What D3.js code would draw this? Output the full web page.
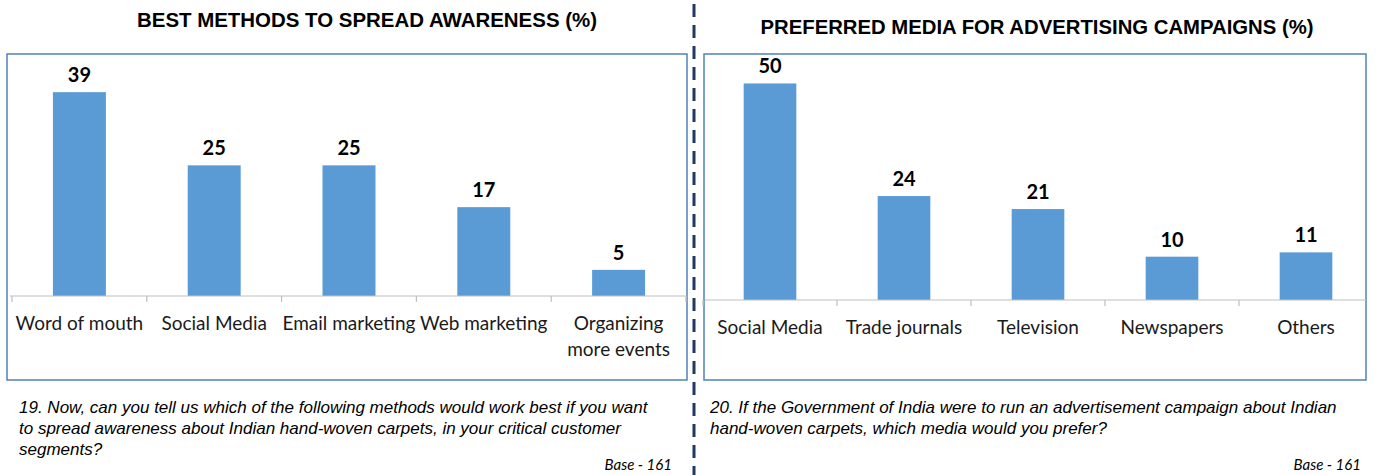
<!DOCTYPE html>
<html>
<head>
<meta charset="utf-8">
<script src="https://cdn.jsdelivr.net/npm/d3@7"></script>
<style>
  body { margin: 0; background: #fff; }
  svg { display: block; }
</style>
</head>
<body>
<div id="chart"></div>
<script>
// data
var awarenessCats = [["Word of mouth"], ["Social Media"], ["Email marketing"], ["Web marketing"], ["Organizing", "more events"]];
var awarenessVals = [39, 25, 25, 17, 5];
var mediaCats = [["Social Media"], ["Trade journals"], ["Television"], ["Newspapers"], ["Others"]];
var mediaVals = [50, 24, 21, 10, 11];

var titles = ["BEST METHODS TO SPREAD AWARENESS (%)", "PREFERRED MEDIA FOR ADVERTISING CAMPAIGNS (%)"];
var notes = [
    ["19. Now, can you tell us which of the following methods would work best if you want",
     "to spread awareness about Indian hand-woven carpets, in your critical customer",
     "segments?"],
    ["20. If the Government of India were to run an advertisement campaign about Indian",
     "hand-woven carpets, which media would you prefer?"]
];
var baseText = "Base - 161";

var W = 1378, H = 475;
var svg = d3.select("#chart").append("svg").attr("width", W).attr("height", H);

var barColor = "#5b9bd5";
var boxColor = "#4f81bd";
var labelFont = "Lato, 'Open Sans', sans-serif";
var noteFont = "'Liberation Sans', Arial, sans-serif";

function drawPanel(cfg, cats, vals, title, note) {
    var g = svg.append("g");

    // frame
    g.append("rect")
        .attr("x", cfg.boxX).attr("y", 54)
        .attr("width", cfg.boxW).attr("height", 326)
        .attr("fill", "none")
        .attr("stroke", boxColor)
        .attr("stroke-width", 1.5);

    // title
    g.append("text")
        .attr("x", cfg.titleX).attr("y", cfg.titleY)
        .attr("text-anchor", "middle")
        .attr("font-family", "'Liberation Sans', Arial, sans-serif")
        .attr("font-weight", "bold")
        .attr("font-size", 21)
        .attr("textLength", cfg.titleW)
        .attr("lengthAdjust", "spacingAndGlyphs")
        .attr("fill", "#000")
        .text(title);

    var x = d3.scaleBand()
        .domain(d3.range(vals.length))
        .range([cfg.x0, cfg.x1])
        .paddingInner(0.607)
        .paddingOuter(0.3035);

    var y = d3.scaleLinear()
        .domain([0, cfg.yMax])
        .range([cfg.axisY, 54]);

    // bars
    g.selectAll("rect.bar")
        .data(vals)
        .enter()
        .append("rect")
        .attr("class", "bar")
        .attr("x", function(d, i) { return x(i); })
        .attr("y", function(d) { return y(d); })
        .attr("width", x.bandwidth())
        .attr("height", function(d) { return y(0) - y(d); })
        .attr("fill", barColor);

    // value labels
    g.selectAll("text.val")
        .data(vals)
        .enter()
        .append("text")
        .attr("class", "val")
        .attr("x", function(d, i) { return x(i) + x.bandwidth() / 2; })
        .attr("y", function(d) { return y(d) - 10; })
        .attr("text-anchor", "middle")
        .attr("font-family", labelFont)
        .attr("font-weight", "bold")
        .attr("font-size", 20)
        .attr("fill", "#000")
        .text(function(d) { return d; });

    // axis line + ticks at band edges
    g.append("line")
        .attr("x1", cfg.axisL).attr("x2", cfg.axisR)
        .attr("y1", cfg.axisY).attr("y2", cfg.axisY)
        .attr("stroke", "#bfbfbf").attr("stroke-width", 1.2);

    var step = x.step();
    var edges = d3.range(vals.length + 1).map(function(i) { return cfg.x0 + i * step; })
        .filter(function(e) { return e <= cfg.axisR + 1; });
    g.selectAll("line.tick")
        .data(edges)
        .enter()
        .append("line")
        .attr("class", "tick")
        .attr("x1", function(d) { return d; }).attr("x2", function(d) { return d; })
        .attr("y1", cfg.axisY).attr("y2", cfg.axisY + 6)
        .attr("stroke", "#bfbfbf").attr("stroke-width", 1.2);

    // category labels
    var cl = g.selectAll("text.cat")
        .data(cats)
        .enter()
        .append("text")
        .attr("class", "cat")
        .attr("text-anchor", "middle")
        .attr("font-family", labelFont)
        .attr("font-size", 19)
        .attr("fill", "#1a1a1a");
    cl.each(function(d, i) {
        var t = d3.select(this);
        d.forEach(function(line, j) {
            t.append("tspan")
                .attr("x", x(i) + x.bandwidth() / 2)
                .attr("y", cfg.axisY + 34 + j * 26)
                .text(line);
        });
    });

    // question note
    g.selectAll("text.note")
        .data(note)
        .enter()
        .append("text")
        .attr("class", "note")
        .attr("x", cfg.noteX)
        .attr("y", function(d, i) { return 413 + i * 21; })
        .attr("font-family", noteFont)
        .attr("font-style", "italic")
        .attr("font-size", 17)
        .attr("fill", "#000")
        .text(function(d) { return d; });

    g.append("text")
        .attr("x", cfg.baseX).attr("y", 470)
        .attr("text-anchor", "end")
        .attr("font-family", labelFont)
        .attr("font-style", "italic")
        .attr("font-size", 15)
        .attr("fill", "#000")
        .text(baseText);
}

drawPanel({boxX: 7, boxW: 680, titleX: 367, titleY: 27, titleW: 460, x0: 12, x1: 686, axisL: 10, axisR: 687, axisY: 296, yMax: 46.3, noteX: 19, baseX: 672},
    awarenessCats, awarenessVals, titles[0], notes[0]);
drawPanel({boxX: 704, boxW: 662, titleX: 1037, titleY: 34, titleW: 553, x0: 703, x1: 1373, axisL: 705, axisR: 1366, axisY: 300, yMax: 56.8, noteX: 710, baseX: 1361},
    mediaCats, mediaVals, titles[1], notes[1]);

// dashed divider between the two panels
svg.append("line")
    .attr("x1", 694).attr("x2", 694)
    .attr("y1", 4).attr("y2", H)
    .attr("stroke", "#1f3864")
    .attr("stroke-width", 3)
    .attr("stroke-dasharray", "13,8");
</script>
</body>
</html>
